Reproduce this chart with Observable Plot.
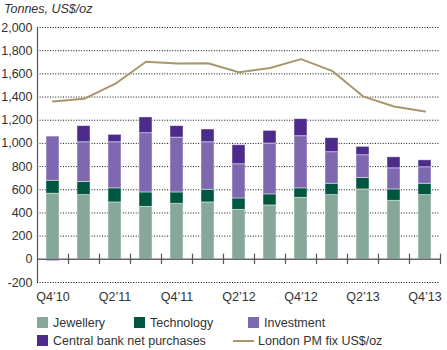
<!DOCTYPE html>
<html>
<head>
<meta charset="utf-8">
<script src="https://cdn.jsdelivr.net/npm/d3@7"></script>
<script src="https://cdn.jsdelivr.net/npm/@observablehq/plot@0.6"></script>
<style>
  body { margin: 0; background: #fff; font-family: "Liberation Sans", Arial, sans-serif; }
  #wrap { position: relative; width: 447px; height: 350px; overflow: hidden; }
  #title { position: absolute; left: 4px; top: 2px; font-size: 12.5px; font-style: italic; color: #333; }
  #chart { position: absolute; left: 0; top: 20px; }
  .lg { position: absolute; font-size: 12.5px; color: #333; line-height: 14px; white-space: nowrap; }
  .sw { position: absolute; width: 11px; height: 11px; }
  .ln { position: absolute; height: 2px; }
</style>
</head>
<body>
<div id="wrap">
  <div id="title">Tonnes, US$/oz</div>
  <div id="chart"></div>
  <div id="legend"></div>
</div>
<script>
const quarters = ["Q4’10","Q1’11","Q2’11","Q3’11","Q4’11","Q1’12","Q2’12","Q3’12","Q4’12","Q1’13","Q2’13","Q3’13","Q4’13"];
const xTickLabels = ["Q4’10","Q2’11","Q4’11","Q2’12","Q4’12","Q2’13","Q4’13"];
const yTicks = [-200,0,200,400,600,800,1000,1200,1400,1600,1800,2000];
const seriesNames = ["Jewellery","Technology","Investment","Central bank net purchases"];
const lineName = "London PM fix US$/oz";
const jewellery  = [566,554,491,453,479,491,427,465,531,554,603,505,554];
const technology = [112,113,121,124,98,109,98,95,81,98,98,98,98];
const investment = [381,343,398,511,473,410,295,439,450,272,197,182,142];
const centralBank = [-15,139,64,136,99,110,164,109,147,121,72,95,60];
const goldPrice = [1362,1385,1513,1704,1690,1691,1614,1651,1727,1626,1406,1318,1275];

const colors = ["#85a898","#00573f","#7e69b0","#4d2b8c"];
const lineColor = "#a8976a";

const seriesValues = [jewellery, technology, investment, centralBank];
const bars = [];
seriesNames.forEach((s, si) => {
  quarters.forEach((q, qi) => bars.push({quarter: q, series: s, value: seriesValues[si][qi]}));
});
const line = quarters.map((q, i) => ({quarter: q, price: goldPrice[i]}));

const W = 447, H = 290;
const step = (W - 37 - 7) / quarters.length;
const chart = Plot.plot({
  width: W,
  height: H,
  marginLeft: 37,
  marginRight: 7,
  marginTop: 7,
  marginBottom: 28,
  style: {fontFamily: "Liberation Sans, Arial, sans-serif", fontSize: "12.5px", color: "#333", background: "transparent"},
  x: {domain: quarters, paddingInner: 0.59, paddingOuter: 0.295, label: null},
  y: {domain: [-200, 2000], label: null},
  color: {domain: seriesNames, range: colors},
  marks: [
    Plot.ruleY(yTicks.filter(d => d !== 0), {stroke: "#111", strokeDasharray: "1,1.6", strokeWidth: 1}),
    Plot.barY(bars, {x: "quarter", y: "value", fill: "series", stroke: "#fff", strokeOpacity: 0.55, strokeWidth: 0.8}),
    Plot.ruleY([0], {stroke: "#666", strokeWidth: 1.5}),
    Plot.ruleX(quarters, {x: d => d, y1: -45, y2: 45, dx: step / 2, stroke: "#555", strokeWidth: 1.2}),
    Plot.ruleX([quarters[0]], {x: d => d, y1: -200, y2: 2000, dx: -step / 2, stroke: "#555", strokeWidth: 1.2}),
    Plot.lineY(line, {x: "quarter", y: "price", stroke: lineColor, strokeWidth: 2}),
    Plot.axisY({ticks: yTicks, tickSize: 0, tickPadding: 5, tickFormat: d => d.toLocaleString("en-US"), fill: "#333"}),
    Plot.axisX({ticks: xTickLabels, tickSize: 0, tickPadding: 10, fill: "#333"})
  ]
});
document.getElementById("chart").appendChild(chart);

const legend = document.getElementById("legend");
const items = [
  {name: seriesNames[0], color: colors[0], x: 37, y: 317, type: "sw"},
  {name: seriesNames[1], color: colors[1], x: 134, y: 317, type: "sw"},
  {name: seriesNames[2], color: colors[2], x: 248, y: 317, type: "sw"},
  {name: seriesNames[3], color: colors[3], x: 37, y: 335, type: "sw"},
  {name: lineName, color: lineColor, x: 233, y: 335, type: "ln"}
];
items.forEach(it => {
  const m = document.createElement("div");
  m.className = it.type;
  m.style.background = it.color;
  m.style.left = it.x + "px";
  if (it.type === "sw") { m.style.top = it.y + "px"; }
  else { m.style.top = (it.y + 5) + "px"; m.style.width = "21px"; }
  legend.appendChild(m);
  const t = document.createElement("div");
  t.className = "lg";
  t.textContent = it.name;
  t.style.left = (it.type === "sw" ? it.x + 16 : it.x + 25) + "px";
  t.style.top = (it.y - 1.5) + "px";
  legend.appendChild(t);
});
</script>
</body>
</html>
